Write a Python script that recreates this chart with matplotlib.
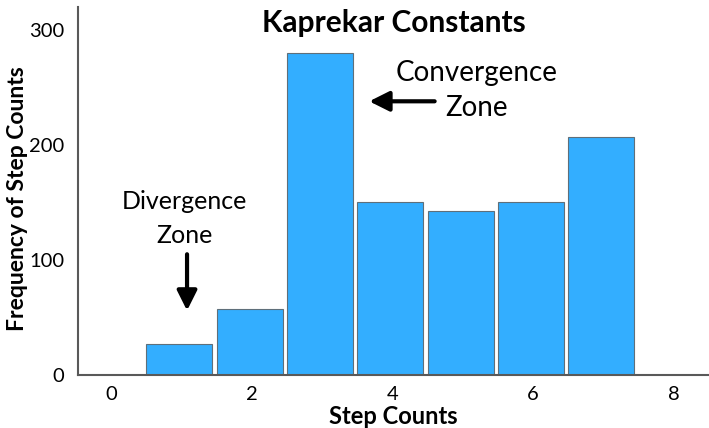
import matplotlib
matplotlib.use("Agg")
import matplotlib.pyplot as plt

plt.rcParams['font.family'] = ['Lato', 'DejaVu Sans']

step_counts = [1, 2, 3, 4, 5, 6, 7]
frequencies = [27, 57, 280, 150, 143, 150, 207]
x_ticks = [0, 2, 4, 6, 8]
y_ticks = [0, 100, 200, 300]
title = "Kaprekar Constants"

fig = plt.figure(figsize=(7.09, 4.28), dpi=100)
ax = fig.add_axes([78/709, 53/428, (709-78)/709, 368/428])

ax.bar([s - 0.5 for s in step_counts], frequencies, width=0.94, align='edge',
       color='#33AEFF', edgecolor='#5f6f7a', linewidth=0.8, zorder=2)

ax.set_xlim(-0.47, 8.5)
ax.set_ylim(0, 320)
ax.set_xticks(x_ticks)
ax.set_yticks(y_ticks)
ax.tick_params(length=0, labelsize=14.5, pad=8)
ax.tick_params(axis='y', pad=10)
for s in ['top', 'right']:
    ax.spines[s].set_visible(False)
for s in ['left', 'bottom']:
    ax.spines[s].set_color('#595959')
    ax.spines[s].set_linewidth(1.5)

ax.set_xlabel("Step Counts", fontsize=17, fontweight='bold', labelpad=1)
ax.set_ylabel("Frequency of Step Counts", fontsize=16.5, fontweight='bold')
ax.yaxis.set_label_coords(-0.079, 0.478)

ax.text(0.5, 0.932, title, transform=ax.transAxes, ha='center',
        va='baseline', fontsize=21.5, fontweight='bold', zorder=5)

arrow_style = '-|>,head_width=0.6,head_length=1.2'

# Divergence annotation
ax.text(1.04, 144, "Divergence", ha='center', va='baseline', fontsize=18)
ax.text(1.04, 115, "Zone", ha='center', va='baseline', fontsize=18)
ax.annotate("", xy=(1.08, 56), xytext=(1.08, 105),
            arrowprops=dict(arrowstyle=arrow_style, lw=3, color='black',
                            shrinkA=0, shrinkB=0))

# Convergence annotation
ax.text(5.19, 255.5, "Convergence", ha='center', va='baseline', fontsize=20)
ax.text(5.19, 225, "Zone", ha='center', va='baseline', fontsize=20)
ax.annotate("", xy=(3.67, 238), xytext=(4.6, 238),
            arrowprops=dict(arrowstyle=arrow_style, lw=3, color='black',
                            shrinkA=0, shrinkB=0))

fig.savefig("out.png", dpi=100)
